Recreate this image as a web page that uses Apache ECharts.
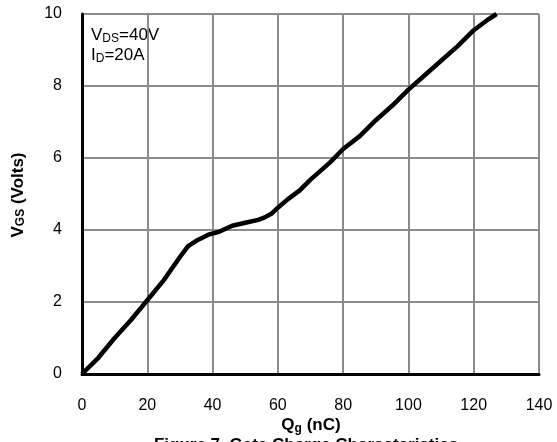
<!DOCTYPE html>
<html><head><meta charset="utf-8">
<script src="https://cdn.jsdelivr.net/npm/echarts@6/dist/echarts.min.js"></script>
<style>html,body{margin:0;padding:0;background:#fff}#c{width:557px;height:442px}</style>
</head><body><div id="c"></div>
<script>
const qg = [0,5,10,15,20,25,30,32.5,35,39,42,46,50,54,56,58,60,63,66.7,70,76,80,85,90,95,100,105,110,115,120,124,127];
const vgs = [0,0.45,1.0,1.5,2.05,2.6,3.25,3.55,3.7,3.88,3.95,4.12,4.2,4.28,4.35,4.45,4.62,4.85,5.1,5.4,5.88,6.25,6.6,7.05,7.45,7.9,8.3,8.7,9.1,9.55,9.82,10];
const xTicks = [0,20,40,60,80,100,120,140];
const yTicks = [0,2,4,6,8,10];
const FONT = 'Liberation Sans, Arial, sans-serif';
const chart = echarts.init(document.getElementById('c'));
chart.setOption({
  animation:false,
  grid:{left:82,right:18,top:14,bottom:68},
  xAxis:{type:'value',min:xTicks[0],max:xTicks[xTicks.length-1],interval:20,
    axisLine:{lineStyle:{color:'#000',width:3}},axisTick:{show:false},
    axisLabel:{color:'#000',fontSize:16,fontFamily:FONT,margin:24},
    splitLine:{lineStyle:{color:'#8c8c8c',width:2}}},
  yAxis:{type:'value',min:yTicks[0],max:yTicks[yTicks.length-1],interval:2,
    axisLine:{show:true,lineStyle:{color:'#000',width:3}},axisTick:{show:false},
    axisLabel:{color:'#000',fontSize:16,fontFamily:FONT,margin:20},
    splitLine:{lineStyle:{color:'#8c8c8c',width:2}}},
  series:[{type:'line',data:qg.map((q,i)=>[q,vgs[i]]),showSymbol:false,
    lineStyle:{color:'#000',width:4.5},z:5}],
  graphic:[
    {type:'text',left:91,top:27,style:{text:'{n|V}{s|DS}{n|=40V}',rich:{n:{fontSize:17,fontFamily:FONT,fill:'#000'},s:{fontSize:12,fontFamily:FONT,fill:'#000',padding:[7,0,0,0]}}}},
    {type:'text',left:91,top:47,style:{text:'{n|I}{s|D}{n|=20A}',rich:{n:{fontSize:17,fontFamily:FONT,fill:'#000'},s:{fontSize:12,fontFamily:FONT,fill:'#000',padding:[7,0,0,0]}}}},
    {type:'text',x:18,y:195,rotation:Math.PI/2,style:{text:'{n|V}{s|GS}{n| (Volts)}',align:'center',verticalAlign:'middle',rich:{n:{fontSize:17,fontWeight:'bold',fontFamily:FONT,fill:'#000'},s:{fontSize:12,fontWeight:'bold',fontFamily:FONT,fill:'#000',padding:[6,0,0,0]}}}},
    {type:'text',x:311,y:425,style:{text:'{n|Q}{s|g}{n| (nC)}',align:'center',verticalAlign:'middle',rich:{n:{fontSize:17,fontWeight:'bold',fontFamily:FONT,fill:'#000'},s:{fontSize:12,fontWeight:'bold',fontFamily:FONT,fill:'#000',padding:[8,0,0,0]}}}},
    {type:'text',x:306,y:445,style:{text:'Figure 7. Gate Charge Characteristics',align:'center',verticalAlign:'middle',fontSize:17,fontWeight:'bold',fontFamily:FONT,fill:'#000'}}
  ]
});
</script></body></html>
